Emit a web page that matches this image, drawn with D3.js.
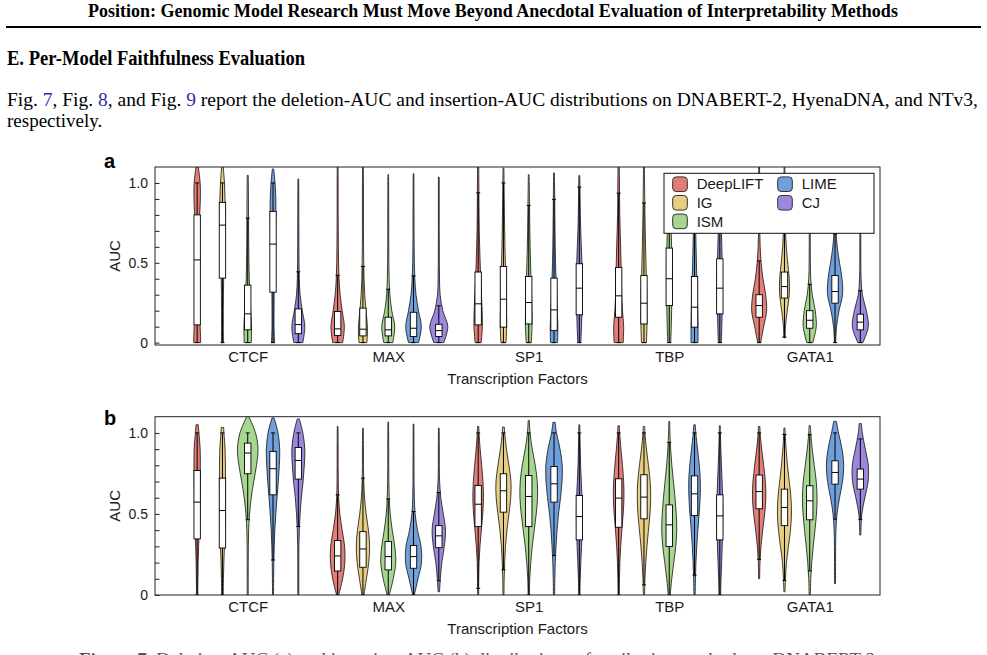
<!DOCTYPE html>
<html><head><meta charset="utf-8">
<script src="https://cdn.jsdelivr.net/npm/d3@7"></script>
<style>body{margin:0;background:#fff;} svg{display:block;}</style>
</head><body><svg id="c" width="987" height="655"></svg>
<script>
// ---------------- data ----------------
const categories = ["CTCF", "MAX", "SP1", "TBP", "GATA1"];
const methods = ["DeepLIFT", "IG", "ISM", "LIME", "CJ"];
const yTickValues = [0, 0.1, 0.2, 0.3, 0.4, 0.5, 0.6, 0.7, 0.8, 0.9, 1.0];
const yTickLabels = { "0": "0", "0.5": "0.5", "1": "1.0" };
const densityGrid = [0, 0.1, 0.2, 0.3, 0.4, 0.5, 0.6, 0.7, 0.8, 0.9, 1.0, 1.1];

// (a) deletion-AUC — rows: categories, columns: methods
const delQ1  = [[0.111,0.404,0.080,0.316,0.056],[0.044,0.042,0.042,0.038,0.038],[0.111,0.097,0.117,0.075,0.174],[0.159,0.117,0.232,0.097,0.180],[0.159,0.279,0.090,0.247,0.080]];
const delMed = [[0.518,0.736,0.180,0.617,0.113],[0.086,0.084,0.080,0.090,0.075],[0.243,0.272,0.251,0.205,0.341],[0.293,0.247,0.400,0.222,0.341],[0.232,0.351,0.140,0.320,0.128]];
const delQ3  = [[0.800,0.878,0.360,0.822,0.211],[0.195,0.216,0.159,0.190,0.115],[0.442,0.477,0.414,0.404,0.494],[0.470,0.420,0.592,0.414,0.525],[0.300,0.442,0.200,0.420,0.178]];
const delMin = [[0,0,0,0,0],[0,0,0,0,0],[0,0,0,0,0],[0,0,0,0,0],[0,0.03,0,0,0]];
const delMax = [[1.15,1.15,1.048,1.088,1.025],[1.15,1.15,1.052,1.058,1.037],[1.15,1.094,1.052,1.063,1.046],[1.15,1.15,1.02,1.02,1.02],[1.15,1.15,1.02,1.02,1.02]];
const delDensity = [
  [[3.5,3.0,1.5,1.2,1.2,1.2,1.3,1.6,2.5,3.2,3.0,1.2],[1.0,0.9,0.9,1.0,1.2,1.5,1.8,2.2,2.5,2.6,2.0,0.8],[3.5,3.8,3.0,2.2,1.5,1.2,1.0,0.9,0.8,0.7,0.6,0.4],[1.5,1.0,1.0,1.1,1.3,1.6,2.0,2.4,2.8,2.8,2.0,0.5],[4.5,6.5,4.0,1.8,1.0,0.7,0.6,0.6,0.5,0.5,0.4,0.3]],
  [[5.0,6.7,4.5,2.5,1.4,0.9,0.7,0.6,0.5,0.5,0.5,0.4],[4.0,4.5,3.0,1.8,1.1,0.8,0.6,0.5,0.5,0.5,0.5,0.4],[4.5,6.5,3.5,1.6,0.9,0.6,0.5,0.5,0.5,0.4,0.4,0.3],[5.0,7.8,5.0,2.5,1.3,0.8,0.6,0.5,0.5,0.4,0.4,0.3],[5.0,9.0,4.0,1.3,0.7,0.5,0.5,0.4,0.4,0.4,0.4,0.3]],
  [[3.0,4.2,4.0,3.3,2.6,2.0,1.5,1.1,0.9,0.8,0.7,0.6],[2.5,3.2,3.0,2.7,2.3,1.9,1.5,1.2,1.0,0.8,0.6,0.4],[2.5,3.3,3.2,2.8,2.3,1.8,1.4,1.1,0.9,0.7,0.5,0.3],[3.5,3.8,3.2,2.6,2.0,1.5,1.2,1.0,0.8,0.7,0.5,0.3],[1.5,2.2,2.6,2.8,2.8,2.6,2.0,1.4,1.0,0.8,0.6,0.3]],
  [[4.5,5.0,3.8,3.0,2.7,2.4,2.0,1.5,1.1,0.9,0.8,0.6],[2.5,3.0,3.0,2.8,2.4,2.0,1.6,1.3,1.0,0.8,0.6,0.5],[1.5,2.0,2.4,2.7,2.8,2.7,2.4,1.9,1.4,1.0,0.7,0.3],[3.5,3.5,3.2,2.8,2.3,1.9,1.5,1.2,1.0,0.8,0.6,0.3],[1.5,2.0,2.4,2.6,2.6,2.4,2.0,1.6,1.2,0.9,0.7,0.3]],
  [[1.5,4.5,7.5,6.5,3.8,2.0,1.0,0.6,0.5,0.5,0.5,0.4],[0.6,1.0,2.8,4.8,4.8,3.2,1.8,1.0,0.7,0.5,0.5,0.4],[3.0,6.5,5.5,2.5,1.0,0.6,0.5,0.5,0.4,0.4,0.4,0.3],[0.6,1.5,4.0,7.5,7.0,4.5,2.2,1.0,0.6,0.5,0.4,0.3],[2.5,8.0,6.0,2.0,0.8,0.5,0.5,0.4,0.4,0.4,0.4,0.3]]
];

// (b) insertion-AUC — rows: categories, columns: methods
const insQ1  = [[0.346,0.290,0.748,0.618,0.715],[0.148,0.171,0.155,0.165,0.292],[0.422,0.511,0.422,0.573,0.340],[0.418,0.470,0.299,0.490,0.340],[0.532,0.428,0.464,0.684,0.653]];
const insMed = [[0.573,0.521,0.876,0.779,0.830],[0.241,0.284,0.237,0.237,0.365],[0.560,0.643,0.608,0.686,0.484],[0.598,0.604,0.433,0.624,0.488],[0.638,0.540,0.581,0.756,0.715]];
const insQ3  = [[0.768,0.721,0.937,0.886,0.910],[0.336,0.391,0.330,0.305,0.428],[0.676,0.748,0.737,0.793,0.614],[0.717,0.742,0.556,0.735,0.618],[0.740,0.653,0.674,0.828,0.777]];
const insMin = [[0,0,0,0,0],[0,0,0,0,0.02],[0,0,0,0,0],[0,0,0,0,0],[0.10,0.02,0,0.07,0.37]];
const insMax = [[1.05,1.034,1.11,1.092,1.086],[1.04,1.03,1.067,1.055,1.03],[1.04,1.036,1.077,1.065,1.05],[1.044,1.04,1.071,1.05,1.044],[1.04,1.03,1.044,1.071,1.057]];
const insDensity = [
  [[0.6,0.8,1.0,1.5,2.0,2.5,2.8,3.0,3.2,3.0,1.8,0.5],[0.8,1.0,1.4,2.0,2.5,2.8,2.9,3.0,3.0,2.6,1.5,0.5],[0.5,0.5,0.5,0.6,0.9,1.8,3.5,6.0,8.8,10.3,7.8,1.0],[0.5,0.6,0.8,1.2,1.8,2.8,4.0,5.3,6.3,6.7,5.0,0.8],[0.5,0.5,0.5,0.6,1.0,1.8,3.0,4.8,6.0,6.5,4.5,0.5]],
  [[1.0,5.0,7.2,7.0,4.5,2.2,1.0,0.6,0.5,0.5,0.4,0.3],[1.0,3.5,5.8,6.7,5.5,3.2,1.6,0.8,0.5,0.5,0.4,0.3],[1.0,5.0,7.5,6.5,4.0,2.0,1.0,0.6,0.5,0.5,0.4,0.3],[0.8,4.5,8.0,7.5,4.0,1.6,0.8,0.5,0.5,0.4,0.4,0.3],[0.5,1.5,3.0,5.5,6.7,4.5,2.0,0.8,0.5,0.5,0.4,0.3]],
  [[0.5,0.6,0.9,1.8,3.2,4.6,5.3,4.8,3.5,2.0,0.9,0.3],[0.5,0.7,1.2,2.0,3.5,5.5,7.3,7.5,5.5,3.0,1.2,0.3],[0.6,1.0,2.0,3.5,5.5,7.5,8.8,8.5,6.5,3.5,1.3,0.3],[0.6,0.8,1.2,2.0,3.0,4.5,6.5,8.0,8.2,6.0,2.5,0.3],[0.6,0.9,1.5,2.2,2.8,3.0,2.7,2.0,1.3,0.9,0.6,0.3]],
  [[0.6,0.8,1.2,2.0,3.2,4.5,5.3,5.0,3.8,2.3,1.0,0.3],[0.6,1.0,1.8,3.0,4.5,6.0,6.7,6.2,4.5,2.5,1.0,0.3],[1.0,2.5,4.5,6.5,7.5,7.0,5.8,4.2,2.6,1.4,0.7,0.3],[0.6,0.9,1.4,2.2,3.3,4.6,5.6,5.8,4.8,3.0,1.3,0.3],[0.8,1.2,1.8,2.4,2.8,3.0,2.8,2.3,1.6,1.0,0.6,0.3]],
  [[0.5,0.5,0.8,1.8,3.5,5.5,6.7,6.2,4.5,2.5,1.0,0.3],[0.5,1.0,2.0,4.0,6.0,7.0,6.5,4.8,3.0,1.6,0.7,0.3],[0.6,1.0,2.0,3.5,5.2,6.7,7.3,6.5,4.5,2.5,1.0,0.3],[0.5,0.5,0.5,0.6,0.9,2.0,4.5,7.5,8.7,7.0,3.5,0.5],[0.5,0.5,0.5,0.5,0.6,1.5,4.5,7.8,8.0,5.0,2.0,0.5]]
];

// ---------------- styles ----------------
const methodColors = ["#e27d77", "#e6cd81", "#a7d690", "#709fdb", "#9c87dc"];
const SANS = "'Liberation Sans', Arial, Helvetica, sans-serif";
const SERIF = "'Liberation Serif', 'Times New Roman', serif";

const svg = d3.select("#c");

// ---------------- page text ----------------
svg.append("text").attr("x", 493).attr("y", 17).attr("text-anchor", "middle")
  .attr("font-family", SERIF).attr("font-weight", "bold").attr("font-size", 18)
  .text("Position: Genomic Model Research Must Move Beyond Anecdotal Evaluation of Interpretability Methods");
svg.append("line").attr("x1", 6).attr("x2", 981).attr("y1", 27).attr("y2", 27)
  .attr("stroke", "#000").attr("stroke-width", 1.8);
svg.append("text").attr("x", 7).attr("y", 65)
  .attr("font-family", SERIF).attr("font-weight", "bold").attr("font-size", 20)
  .attr("textLength", 298).attr("lengthAdjust", "spacingAndGlyphs")
  .text("E. Per-Model Faithfulness Evaluation");
const para = svg.append("text").attr("x", 7).attr("y", 106)
  .attr("font-family", SERIF).attr("font-size", 19.5)
  .attr("textLength", 971).attr("lengthAdjust", "spacingAndGlyphs");
const linkBlue = "#2e2ea8";
[["Fig. ", null], ["7", linkBlue], [", Fig. ", null], ["8", linkBlue], [", and Fig. ", null], ["9", linkBlue],
 [" report the deletion-AUC and insertion-AUC distributions on DNABERT-2, HyenaDNA, and NTv3,", null]]
  .forEach(([t, c]) => { const s = para.append("tspan").text(t); if (c) s.attr("fill", c); });
svg.append("text").attr("x", 7).attr("y", 127)
  .attr("font-family", SERIF).attr("font-size", 19).text("respectively.");
svg.append("text").attr("x", 79).attr("y", 666)
  .attr("font-family", SERIF).attr("font-size", 19).attr("fill", "#555")
  .html("<tspan font-weight='bold'>Figure 7.</tspan> Deletion-AUC (a) and insertion-AUC (b) distributions of attribution methods on DNABERT-2.");

// ---------------- chart panels ----------------
const x = d3.scaleLinear().domain([0.34, 5.5]).range([155, 880]);
const methodOffset = d3.scalePoint().domain(methods).range([-0.36, 0.36]);
const widthScale = d3.scaleLinear().domain([0, 10]).range([0, 10]);

function drawPanel(cfg) {
  const { top, bottom, yDomain, letter, letterY, q1, med, q3, vmin, vmax, dens, id, legend } = cfg;
  const y = d3.scaleLinear().domain(yDomain).range([bottom, top]);
  const g = svg.append("g");
  const left = x.range()[0], right = x.range()[1];

  g.append("clipPath").attr("id", id).append("rect")
    .attr("x", left).attr("y", top).attr("width", right - left).attr("height", bottom - top);
  const plot = g.append("g").attr("clip-path", `url(#${id})`);

  categories.forEach((cat, ci) => {
    methods.forEach((m, mi) => {
      const cx = x(ci + 1 + methodOffset(m));
      const lo = vmin[ci][mi], hi = vmax[ci][mi];
      const prof = dens[ci][mi];
      const interp = v => {
        const k = Math.min(densityGrid.length - 2, Math.max(0, Math.floor(v / 0.1)));
        const t = (v - densityGrid[k]) / 0.1;
        return prof[k] * (1 - t) + prof[k + 1] * t;
      };
      const pts = [{ v: lo, d: interp(lo) }];
      densityGrid.forEach((gv, k) => { if (gv > lo + 0.01 && gv < hi - 0.01) pts.push({ v: gv, d: prof[k] }); });
      pts.push({ v: hi, d: interp(hi) });
      const area = d3.area().curve(d3.curveCatmullRom)
        .y(d => y(d.v)).x0(d => cx - widthScale(d.d)).x1(d => cx + widthScale(d.d));
      plot.append("path").attr("d", area(pts))
        .attr("fill", methodColors[mi]).attr("stroke", "#111").attr("stroke-width", 0.8);

      const a = q1[ci][mi], md = med[ci][mi], b = q3[ci][mi];
      const iqr = b - a;
      const wLo = Math.max(Math.max(0, lo), a - 1.5 * iqr);
      const wHi = Math.min(Math.min(1, hi), b + 1.5 * iqr);
      plot.append("line").attr("x1", cx).attr("x2", cx).attr("y1", y(wLo)).attr("y2", y(wHi))
        .attr("stroke", "#000").attr("stroke-width", 1);
      [wLo, wHi].forEach(v => plot.append("line").attr("x1", cx - 2).attr("x2", cx + 2)
        .attr("y1", y(v)).attr("y2", y(v)).attr("stroke", "#000").attr("stroke-width", 1));
      plot.append("rect").attr("x", cx - 3.2).attr("width", 6.4)
        .attr("y", y(b)).attr("height", y(a) - y(b))
        .attr("fill", "#fff").attr("stroke", "#000").attr("stroke-width", 0.9);
      plot.append("line").attr("x1", cx - 3.2).attr("x2", cx + 3.2).attr("y1", y(md)).attr("y2", y(md))
        .attr("stroke", "#000").attr("stroke-width", 1);
    });
  });

  // frame
  g.append("rect").attr("x", left).attr("y", top).attr("width", right - left).attr("height", bottom - top)
    .attr("fill", "none").attr("stroke", "#222").attr("stroke-width", 1);

  // y axis: inward ticks
  const yAxis = d3.axisRight(y).tickValues(yTickValues).tickSize(4.5).tickFormat("");
  const ax = g.append("g").attr("transform", `translate(${left},0)`).call(yAxis);
  ax.select(".domain").remove();
  ax.selectAll("line").attr("stroke", "#222");
  const labelAxis = d3.axisLeft(y).tickValues([0, 0.5, 1]).tickSize(0).tickPadding(7)
    .tickFormat(d => yTickLabels[String(d)]);
  const lx = g.append("g").attr("transform", `translate(${left},0)`).call(labelAxis);
  lx.select(".domain").remove();
  lx.selectAll("text").attr("font-family", SANS).attr("font-size", 14).attr("fill", "#1a1a1a");

  // x axis: category labels
  const xAxis = d3.axisBottom(x).tickValues(categories.map((c, i) => i + 1)).tickSize(0).tickPadding(6)
    .tickFormat((d, i) => categories[i]);
  const bx = g.append("g").attr("transform", `translate(0,${bottom})`).call(xAxis);
  bx.select(".domain").remove();
  bx.selectAll("text").attr("font-family", SANS).attr("font-size", 15).attr("fill", "#1a1a1a");

  g.append("text").attr("x", (left + right) / 2).attr("y", bottom + 38.5).attr("text-anchor", "middle")
    .attr("font-family", SANS).attr("font-size", 15).attr("fill", "#1a1a1a").text("Transcription Factors");
  g.append("text").attr("transform", `translate(120,${(top + bottom) / 2}) rotate(-90)`)
    .attr("text-anchor", "middle").attr("font-family", SANS).attr("font-size", 15).attr("fill", "#1a1a1a").text("AUC");
  g.append("text").attr("x", 104).attr("y", letterY).attr("font-family", SANS).attr("font-weight", "bold")
    .attr("font-size", 20).attr("fill", "#000").text(letter);

  if (legend) {
    const lg = g.append("g");
    lg.append("rect").attr("x", 664).attr("y", 173.3).attr("width", 210).attr("height", 60)
      .attr("fill", "#fff").attr("stroke", "#111").attr("stroke-width", 1);
    methods.forEach((m, i) => {
      const col = i < 3 ? 0 : 1, row = i < 3 ? i : i - 3;
      const sx = col === 0 ? 672.7 : 777.7;
      const sy = 176.9 + row * 18.6;
      lg.append("rect").attr("x", sx).attr("y", sy).attr("width", 14.6).attr("height", 14.6)
        .attr("rx", 3.5).attr("fill", methodColors[i]).attr("stroke", "#333").attr("stroke-width", 1);
      lg.append("text").attr("x", sx + 24).attr("y", sy + 7.3).attr("dy", "0.35em")
        .attr("font-family", SANS).attr("font-size", 15).attr("fill", "#1a1a1a").text(m);
    });
  }
}

drawPanel({ id: "clipA", top: 167, bottom: 345, yDomain: [-0.015, 1.1], letter: "a", letterY: 168,
  q1: delQ1, med: delMed, q3: delQ3, vmin: delMin, vmax: delMax, dens: delDensity, legend: true });
drawPanel({ id: "clipB", top: 416.7, bottom: 595, yDomain: [0, 1.1], letter: "b", letterY: 425,
  q1: insQ1, med: insMed, q3: insQ3, vmin: insMin, vmax: insMax, dens: insDensity, legend: false });
</script>
</body></html>
